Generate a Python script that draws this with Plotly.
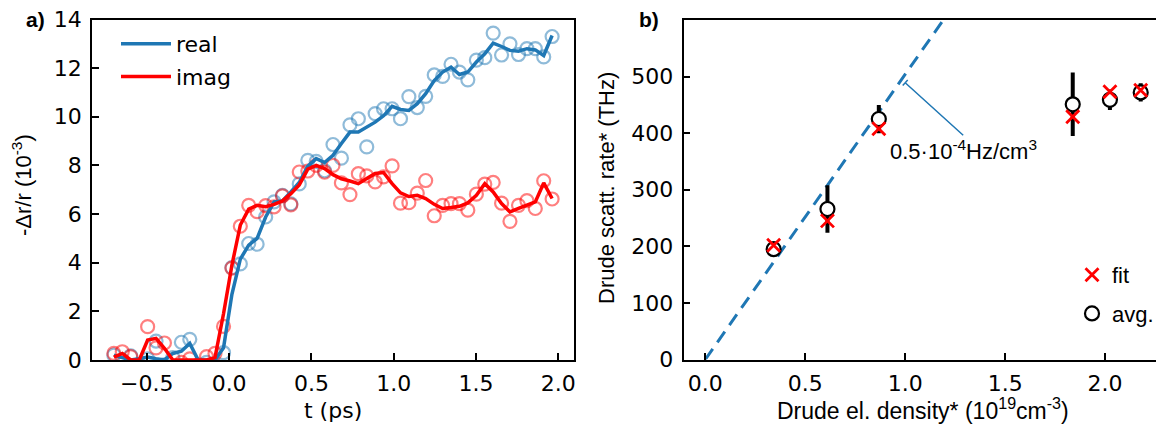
import plotly.graph_objects as go

# ---------------- data: panel a ----------------
t_ps = [-0.700, -0.649, -0.598, -0.546, -0.495, -0.444, -0.393, -0.342, -0.290, -0.239,
        -0.188, -0.137, -0.086, -0.034, 0.017, 0.068, 0.119, 0.170, 0.222, 0.273,
        0.324, 0.375, 0.426, 0.478, 0.529, 0.580, 0.631, 0.682, 0.734, 0.785,
        0.836, 0.887, 0.938, 0.990, 1.041, 1.092, 1.143, 1.194, 1.246, 1.297,
        1.348, 1.399, 1.450, 1.502, 1.553, 1.604, 1.655, 1.706, 1.758, 1.809,
        1.860, 1.911, 1.962]

real_pts = [0.20, 0.00, 0.17, -0.30, 0.05, 0.78, -0.20, 0.10, 0.73, 0.85,
            -0.30, -0.10, -0.20, 0.30, 3.80, 3.95, 4.79, 4.76, 5.88, 6.50,
            6.77, 6.42, 7.24, 8.21, 8.17, 7.78, 8.86, 8.30, 9.67, 9.92,
            8.76, 10.13, 10.33, 10.33, 9.92, 10.83, 10.38, 10.84, 11.72, 11.66,
            12.16, 11.84, 11.52, 12.33, 12.43, 13.44, 12.54, 13.00, 12.56, 12.80,
            12.80, 12.46, 13.30]

real_avg = [0.20, 0.10, 0.00, 0.05, 0.12, 0.05, 0.00, 0.27, 0.36, 0.68,
            0.00, 0.00, 0.00, 0.50, 2.70, 4.15, 4.72, 5.00, 5.88, 6.50,
            6.54, 6.91, 7.30, 7.97, 8.28, 8.12, 8.42, 8.90, 9.37, 9.37,
            9.58, 9.78, 10.04, 10.43, 10.30, 10.26, 10.54, 10.95, 11.49, 11.84,
            12.04, 11.74, 11.84, 12.25, 12.59, 13.03, 12.89, 12.73, 12.70, 12.80,
            12.75, 12.52, 13.34]

imag_pts = [0.27, 0.34, 0.14, -0.20, 1.37, 0.50, 0.70, -0.30, -0.10, 0.05,
            -0.20, 0.14, 0.27, 1.38, 3.78, 5.50, 6.36, 6.10, 6.35, 6.30,
            6.75, 6.38, 7.73, 7.77, 8.00, 7.72, 8.00, 7.28, 6.80, 7.66,
            7.57, 7.32, 7.53, 7.98, 6.45, 6.47, 6.86, 7.38, 5.93, 6.36,
            6.43, 6.43, 6.16, 6.82, 7.23, 7.30, 6.45, 5.70, 6.36, 6.55,
            6.23, 7.37, 6.62]

imag_avg = [0.12, 0.27, 0.00, 0.00, 0.82, 0.89, 0.48, 0.00, 0.00, 0.00,
            0.00, 0.00, 0.10, 1.90, 3.90, 5.55, 6.20, 6.36, 6.30, 6.40,
            6.54, 6.84, 7.20, 7.85, 8.00, 7.87, 7.62, 7.45, 7.36, 7.25,
            7.46, 7.67, 7.71, 7.25, 6.87, 6.72, 6.77, 6.64, 6.40, 6.23,
            6.27, 6.32, 6.46, 6.77, 7.25, 6.91, 6.43, 6.09, 6.23, 6.36,
            6.50, 7.28, 6.64]

# ---------------- data: panel b ----------------
density = [0.342, 0.611, 0.868, 1.838, 2.024, 2.178]
rate_fit = [202, 245, 408, 429, 473, 476]
rate_avg = [195, 266, 425, 451, 459, 472]
rate_err = [6, 42, 25, 56, 18, 16]
lin_x = [0.0, 1.25]
lin_y = [0.0, 630.0]

x_ticks_a = [-0.5, 0.0, 0.5, 1.0, 1.5, 2.0]
y_ticks_a = [0, 2, 4, 6, 8, 10, 12, 14]
x_ticks_b = [0.0, 0.5, 1.0, 1.5, 2.0]
y_ticks_b = [0, 100, 200, 300, 400, 500]

BLUE = "#1f77b4"
RED = "#ff0000"
DV = "DejaVu Sans"
AR = "Liberation Sans, Arial"

# the page has an 8px body margin; figure is sized to fill the rest of the window
OFF = 8
W, H = 1164 - OFF, 428 - OFF
def px(x):
    return (x - OFF) / W
def py(y):
    return 1 - (y - OFF) / H

fig = go.Figure()

fig.add_trace(go.Scatter(x=t_ps, y=real_pts, mode="markers", showlegend=False,
                         marker=dict(symbol="circle-open", size=13, color="rgba(31,119,180,0.5)",
                                     line=dict(width=2.2, color="rgba(31,119,180,0.5)")),
                         xaxis="x", yaxis="y"))
fig.add_trace(go.Scatter(x=t_ps, y=imag_pts, mode="markers", showlegend=False,
                         marker=dict(symbol="circle-open", size=13, color="rgba(255,0,0,0.5)",
                                     line=dict(width=2.2, color="rgba(255,0,0,0.5)")),
                         xaxis="x", yaxis="y"))
fig.add_trace(go.Scatter(x=t_ps, y=real_avg, mode="lines", name="real", legend="legend",
                         legendgroup="r", line=dict(color=BLUE, width=3.5),
                         xaxis="x", yaxis="y"))
fig.add_trace(go.Scatter(x=t_ps, y=imag_avg, mode="lines", name="imag", legend="legend",
                         legendgroup="i", line=dict(color=RED, width=3.5),
                         xaxis="x", yaxis="y"))

# panel b
fig.add_trace(go.Scatter(x=lin_x, y=lin_y, mode="lines", showlegend=False,
                         line=dict(color=BLUE, width=3, dash="13px,8px"),
                         xaxis="x2", yaxis="y2"))
fig.add_trace(go.Scatter(x=density, y=rate_avg, mode="markers", name="avg.", legend="legend2",
                         legendgroup="a", legendrank=2,
                         error_y=dict(type="data", array=rate_err, color="black", thickness=4, width=0),
                         marker=dict(symbol="circle", size=14, color="white",
                                     line=dict(color="black", width=2.2)),
                         xaxis="x2", yaxis="y2"))
fig.add_trace(go.Scatter(x=density, y=rate_fit, mode="markers", name="fit", legend="legend2",
                         legendgroup="f", legendrank=1,
                         marker=dict(symbol="x-thin", size=13, color=RED,
                                     line=dict(color=RED, width=2.8)),
                         xaxis="x2", yaxis="y2"))

axis_common = dict(showline=True, linecolor="black", linewidth=1.5, mirror=True,
                   ticks="inside", ticklen=7, tickwidth=1.5, tickcolor="black",
                   showgrid=False, zeroline=False, automargin=False,
                   ticklabeloverflow="allow",
                   tickfont=dict(family=DV, size=22, color="black"))

fig.update_layout(
    width=W, height=H,
    margin=dict(l=0, r=0, t=0, b=0, autoexpand=False),
    paper_bgcolor="white", plot_bgcolor="white",
    font=dict(family=DV, color="black"),
    xaxis=dict(domain=[px(92), px(574)], range=[-0.833, 2.095], anchor="y",
               tickvals=x_ticks_a, tickformat=".1f", ticklabelstandoff=3, **axis_common),
    yaxis=dict(domain=[py(360), py(19.5)], range=[0, 14], anchor="x",
               tickvals=y_ticks_a, ticklabelstandoff=4, **axis_common),
    xaxis2=dict(domain=[px(683.5), px(1162.5)], range=[-0.109, 2.287], anchor="y2",
                tickvals=x_ticks_b, tickformat=".1f", ticklabelstandoff=3, **axis_common),
    yaxis2=dict(domain=[py(359.5), py(20)], range=[0, 600], anchor="x2",
                tickvals=y_ticks_b, ticklabelstandoff=4, **axis_common),
    legend=dict(x=px(116), y=py(23), xanchor="left", yanchor="top",
                font=dict(family=DV, size=22), bgcolor="rgba(0,0,0,0)",
                itemwidth=50, tracegroupgap=1, traceorder="grouped"),
    legend2=dict(x=px(1072), y=py(254), xanchor="left", yanchor="top",
                 font=dict(family=AR, size=22), bgcolor="rgba(0,0,0,0)",
                 itemwidth=30, tracegroupgap=7, traceorder="grouped"),
)

def txt(text, x, y, family, size, angle=0):
    return dict(text=text, x=px(x), y=py(y), xref="paper", yref="paper",
                xanchor="center", yanchor="middle", showarrow=False, textangle=angle,
                font=dict(family=family, size=size, color="black"))

ann = [
    txt("t (ps)", 333, 410, DV, 22),
    txt("-Δr/r (10<sup>-3</sup>)", 22, 185, AR, 22, -90),
    txt("Drude el. density* (10<sup>19</sup>cm<sup>-3</sup>)", 923, 409, AR, 23),
    txt("Drude scatt. rate* (THz)", 606, 188, AR, 22, -90),
    txt("<b>a)</b>", 35, 19, AR, 21),
    txt("<b>b)</b>", 649, 19, AR, 21),
]
# slope annotation: leader line with a small bracket at its head
ann.append(dict(text=" ", x=1.0, y=489, xref="x2", yref="y2",
                ax=1.30, ay=393, axref="x2", ayref="y2", font=dict(size=2),
                showarrow=True, arrowhead=0, arrowwidth=1.5, arrowcolor=BLUE))
for sgn in (1, -1):
    ann.append(dict(text=" ", x=1.0, y=489, xref="x2", yref="y2",
                    ax=4.5 * sgn, ay=-5 * sgn, font=dict(size=2),
                    showarrow=True, arrowhead=0, arrowwidth=1.5, arrowcolor=BLUE))
ann.append(dict(text="0.5·10<sup>-4</sup>Hz/cm<sup>3</sup>", x=1.29, y=371, xref="x2", yref="y2",
                xanchor="center", yanchor="middle",
                showarrow=False, font=dict(family=AR, size=22, color="black")))
fig.update_layout(annotations=ann)

fig.write_html("out.html")
